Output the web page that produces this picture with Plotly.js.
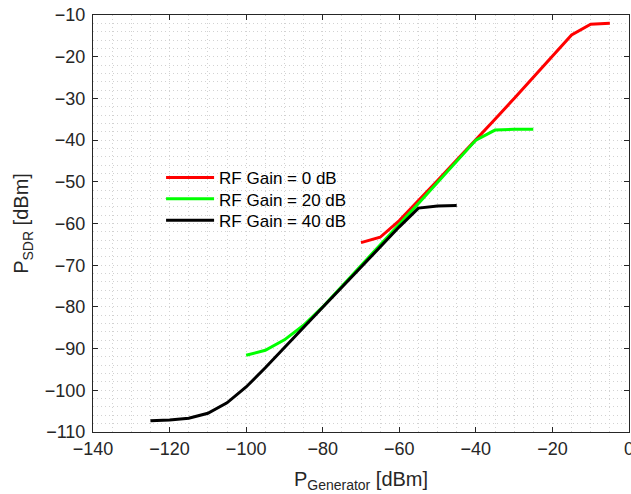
<!DOCTYPE html>
<html>
<head>
<meta charset="utf-8">
<script src="https://cdn.plot.ly/plotly-3.0.1.min.js"></script>
<style>html,body{margin:0;padding:0;background:#fff;}#chart{width:631px;height:494px;}</style>
</head>
<body>
<div id="chart"></div>
<script>
// Data
const xGain0 = [-70, -65, -60, -55, -50, -45, -40, -35, -30, -25, -20, -15, -10, -5];
const yGain0 = [-64.6, -63.3, -59.3, -54.6, -49.7, -44.8, -40.0, -35.0, -30.0, -25.0, -19.9, -14.8, -12.2, -12.0];

const xGain20 = [-100, -95, -90, -85, -80, -75, -70, -65, -60, -55, -50, -45, -40, -35, -30, -25];
const yGain20 = [-91.6, -90.4, -87.9, -84.4, -80.0, -75.1, -70.2, -65.2, -60.2, -55.2, -50.1, -45.0, -40.0, -37.6, -37.4, -37.4];

const xGain40 = [-125, -120, -115, -110, -105, -100, -95, -90, -85, -80, -75, -70, -65, -60, -55, -50, -45];
const yGain40 = [-107.3, -107.1, -106.7, -105.5, -103.0, -99.2, -94.6, -89.7, -84.9, -80.1, -75.3, -70.5, -65.7, -60.8, -56.3, -55.8, -55.7];

const seriesNames = ['RF Gain = 0 dB', 'RF Gain = 20 dB', 'RF Gain = 40 dB'];
const xTicks = [-140, -120, -100, -80, -60, -40, -20, 0];
const yTicks = [-110, -100, -90, -80, -70, -60, -50, -40, -30, -20, -10];

const fmt = v => (v < 0 ? '\u2212' + Math.abs(v) : String(v));

const axisColor = '#262626';
const gridColor = '#d2d2d2';
const dash = '1px,3px';
const font = 'Liberation Sans, Arial, sans-serif';

const traces = [
  {x: xGain0, y: yGain0, name: seriesNames[0], legend: 'legend', mode: 'lines', line: {color: '#ff0000', width: 3}},
  {x: xGain20, y: yGain20, name: seriesNames[1], legend: 'legend2', mode: 'lines', line: {color: '#00ff00', width: 3}},
  {x: xGain40, y: yGain40, name: seriesNames[2], legend: 'legend3', mode: 'lines', line: {color: '#000000', width: 3}}
];

const legendBase = {x: 0.127, xanchor: 'left', yanchor: 'middle', bgcolor: 'rgba(0,0,0,0)',
                    font: {size: 17, color: '#000000'}, itemwidth: 48};

const layout = {
  width: 631, height: 494,
  margin: {l: 93, r: 2, t: 15, b: 62},
  paper_bgcolor: '#ffffff', plot_bgcolor: '#ffffff',
  font: {family: font, color: axisColor, size: 18},
  showlegend: true,
  legend: Object.assign({}, legendBase, {y: 0.609}),
  legend2: Object.assign({}, legendBase, {y: 0.558}),
  legend3: Object.assign({}, legendBase, {y: 0.507}),
  xaxis: {
    range: [-140, 0], tickvals: xTicks, ticktext: xTicks.map(fmt),
    showline: true, linecolor: axisColor, linewidth: 1, mirror: 'ticks',
    ticks: 'inside', ticklen: 5, tickcolor: axisColor,
    showgrid: true, gridcolor: gridColor, griddash: dash, gridwidth: 1,
    minor: {dtick: 5, showgrid: true, gridcolor: gridColor, griddash: dash, gridwidth: 1, ticks: ''},
    zeroline: false, ticklabeloverflow: 'allow',
    tickfont: {size: 18, color: axisColor},
    title: {text: 'P<sub>Generator</sub> [dBm]', font: {size: 20, color: axisColor}, standoff: 14}
  },
  yaxis: {
    range: [-110, -10], tickvals: yTicks, ticktext: yTicks.map(fmt),
    showline: true, linecolor: axisColor, linewidth: 1, mirror: 'ticks',
    ticks: 'inside', ticklen: 5, tickcolor: axisColor,
    showgrid: true, gridcolor: gridColor, griddash: dash, gridwidth: 1,
    minor: {dtick: 2, showgrid: true, gridcolor: gridColor, griddash: dash, gridwidth: 1, ticks: ''},
    zeroline: false, ticklabeloverflow: 'allow',
    tickfont: {size: 18, color: axisColor},
    ticklabelstandoff: 3,
    title: {text: 'P<sub>SDR</sub> [dBm]', font: {size: 20, color: axisColor}, standoff: 10}
  }
};

Plotly.newPlot('chart', traces, layout, {staticPlot: true, displayModeBar: false});
</script>
</body>
</html>
